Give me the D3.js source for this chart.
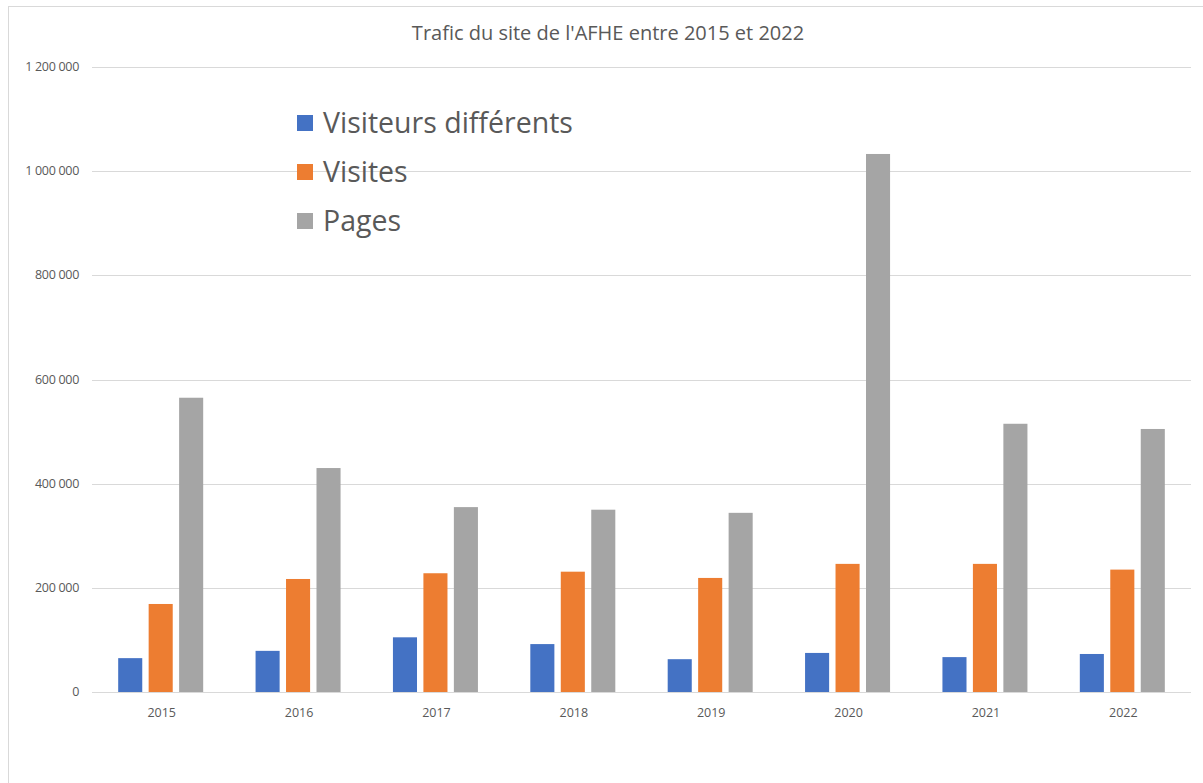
<!DOCTYPE html>
<html>
<head>
<meta charset="utf-8">
<script src="https://cdn.jsdelivr.net/npm/d3@7"></script>
<style>
body { margin: 0; background: #fff; }
svg { display: block; }
</style>
</head>
<body>
<script>
var years = ["2015", "2016", "2017", "2018", "2019", "2020", "2021", "2022"];
var seriesNames = ["Visiteurs différents", "Visites", "Pages"];
var visiteurs = [65000, 79000, 105000, 92000, 63000, 75000, 67000, 73000];
var visites = [169000, 217000, 228000, 231000, 219000, 246000, 246000, 235000];
var pages = [565000, 430000, 355000, 350000, 344000, 1033000, 515000, 505000];
var colors = ["#4472c4", "#ed7d31", "#a5a5a5"];
var yTicks = [0, 200000, 400000, 600000, 800000, 1000000, 1200000];

var width = 1203, height = 783;
var svg = d3.select("body").append("svg")
    .attr("width", width)
    .attr("height", height);

// cadre du graphique
svg.append("line").attr("x1", 8.5).attr("x2", 8.5).attr("y1", 6).attr("y2", height)
    .style("stroke", "#d9d9d9");
svg.append("line").attr("x1", 8).attr("x2", width).attr("y1", 6.5).attr("y2", 6.5)
    .style("stroke", "#d9d9d9");

var plotLeft = 92, plotRight = 1191, plotTop = 67, plotBottom = 692;

var y = d3.scaleLinear().domain([0, 1200000]).range([plotBottom, plotTop]);
var x0 = d3.scaleBand().domain(years).range([plotLeft, plotRight]);
var x1 = d3.scaleBand().domain(seriesNames).range([-42.5, 42.5]).paddingInner(0.21);

var fmt = function (v) { return d3.format(",")(v).replace(/,/g, " "); };

// grille
svg.selectAll("line.grid")
    .data(yTicks)
    .enter()
    .append("line")
    .attr("class", "grid")
    .attr("x1", plotLeft)
    .attr("x2", plotRight)
    .attr("y1", function (d) { return Math.round(y(d)) + 0.5; })
    .attr("y2", function (d) { return Math.round(y(d)) + 0.5; })
    .style("stroke", "#d9d9d9")
    .style("stroke-width", 1);

svg.selectAll("text.ytick")
    .data(yTicks)
    .enter()
    .append("text")
    .attr("class", "ytick")
    .attr("x", 79)
    .attr("y", function (d) { return y(d); })
    .attr("dy", 4)
    .attr("text-anchor", "end")
    .style("font-family", "Open Sans, sans-serif")
    .style("font-size", "12.5px")
    .style("letter-spacing", "-0.3px")
    .style("fill", "#595959")
    .text(fmt);

var allSeries = [visiteurs, visites, pages];
var groups = svg.selectAll("g.year")
    .data(years)
    .enter()
    .append("g")
    .attr("transform", function (d) { return "translate(" + (x0(d) + x0.bandwidth() / 2) + ",0)"; });

groups.selectAll("rect")
    .data(function (d, i) {
        return seriesNames.map(function (s, j) { return { s: s, j: j, v: allSeries[j][i] }; });
    })
    .enter()
    .append("rect")
    .attr("x", function (d) { return x1(d.s); })
    .attr("width", x1.bandwidth())
    .attr("y", function (d) { return y(d.v); })
    .attr("height", function (d) { return plotBottom - y(d.v); })
    .style("fill", function (d) { return colors[d.j]; });

svg.selectAll("text.xtick")
    .data(years)
    .enter()
    .append("text")
    .attr("class", "xtick")
    .attr("x", function (d) { return x0(d) + x0.bandwidth() / 2 + 1; })
    .attr("y", 717)
    .attr("text-anchor", "middle")
    .style("font-family", "Open Sans, sans-serif")
    .style("font-size", "12.5px")
    .style("fill", "#595959")
    .text(function (d) { return d; });

svg.append("text")
    .attr("x", 608)
    .attr("y", 40)
    .attr("text-anchor", "middle")
    .style("font-family", "Open Sans, sans-serif")
    .style("font-size", "20px")
    .style("fill", "#595959")
    .text("Trafic du site de l'AFHE entre 2015 et 2022");

// légende
var legend = svg.selectAll("g.legend")
    .data(seriesNames)
    .enter()
    .append("g")
    .attr("transform", function (d, i) { return "translate(297," + (123 + i * 49) + ")"; });
legend.append("rect")
    .attr("x", 0).attr("y", -8)
    .attr("width", 16).attr("height", 16)
    .style("fill", function (d, i) { return colors[i]; });
legend.append("text")
    .attr("x", 26)
    .attr("y", 0)
    .attr("dy", 10)
    .style("font-family", "Open Sans, sans-serif")
    .style("font-size", "28.5px")
    .style("fill", "#595959")
    .text(function (d) { return d; });
</script>
</body>
</html>
